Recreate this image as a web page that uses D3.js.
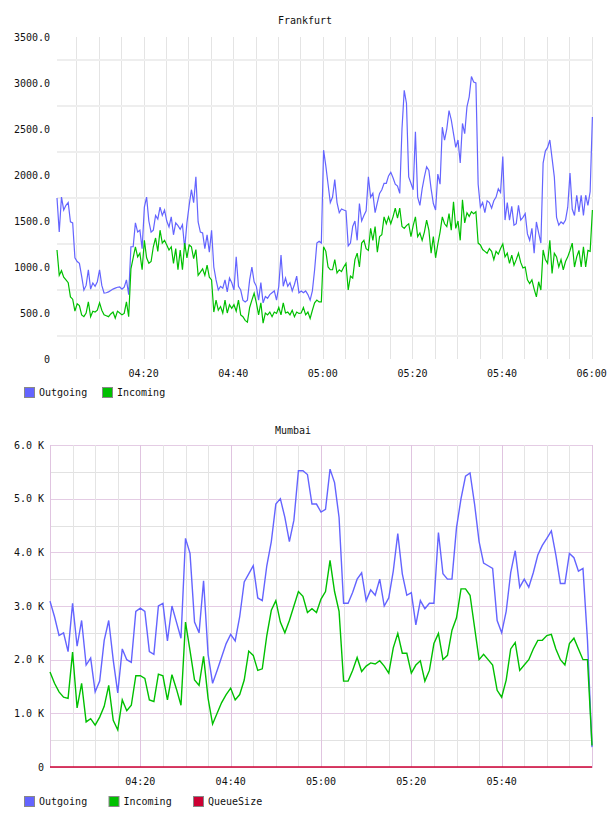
<!DOCTYPE html>
<html>
<head>
<meta charset="utf-8">
<script src="https://cdn.jsdelivr.net/npm/d3@7"></script>
<style>
  body { margin: 0; background: #fff; }
  svg { display: block; }
  text { font-family: "DejaVu Sans Mono", monospace; font-size: 10px; fill: #111; }
</style>
</head>
<body>
<svg width="608" height="816"></svg>
<script>
// Frankfurt: one sample every 30 s starting 04:00:40
var frankfurtStart = new Date(2020, 0, 1, 4, 0, 40);
var frankfurtStepSec = 30;
var frankfurtOutgoing = [
  1750, 1380, 1760, 1620, 1670, 1700, 1490, 1480, 1100, 1060,
  1040, 900, 750, 800, 970, 760, 826, 790, 840, 970,
  800, 717, 720, 730, 745, 760, 770, 780, 783, 760,
  780, 860, 700, 1220, 1220, 1480, 1380, 1400, 1200, 1650,
  1760, 1500, 1380, 1400, 1560, 1520, 1650, 1560, 1620, 1500,
  1435, 1545, 1350, 1480, 1450, 1410, 1460, 1200, 1480, 1670,
  1840, 1700, 1980, 1490, 1380, 1370, 1200, 1350, 1160, 1400,
  1000, 860, 750, 790, 770, 860, 730, 880, 830, 750,
  1110, 790, 750, 640, 620, 640, 860, 1000, 840, 790,
  640, 830, 610, 680, 660, 700, 720, 740, 640, 790,
  1130, 790, 880, 790, 830, 740, 810, 900, 720, 740,
  720, 740, 700, 640, 740, 970, 1260, 1280, 1260, 2270,
  2100, 1900, 1700, 1760, 1950, 1700, 1590, 1630, 1620, 1610,
  1230, 1260, 1440, 1500, 1290, 1690, 1500, 1560, 1610, 1980,
  1760, 1800, 1590, 1700, 1800, 1840, 1910, 1910, 1990, 2030,
  1970, 1900, 1880, 1800, 2500, 2920, 2780, 1980, 1910, 1840,
  2470, 1760, 1670, 1850, 1980, 2090, 2050, 1850, 1690, 1620,
  2010, 1900, 2520, 2380, 2500, 2700, 2600, 2450, 2300, 2380,
  2130, 2560, 2450, 2740, 2850, 3070, 3010, 3000, 1900, 1650,
  1700, 1590, 1720, 1700, 1640, 1720, 1760, 1850, 1810, 2200,
  1510, 1700, 1510, 1660, 1455, 1470, 1670, 1510, 1540, 1580,
  1360, 1290, 1420, 1150, 1490, 1370, 1260, 2130, 2260, 2300,
  2380, 2180, 1980, 1540, 1455, 1490, 1470, 1510, 1650, 2020,
  1630, 1560, 1780, 1600, 1780, 1560, 1780, 1670, 1820, 2630
];
var frankfurtIncoming = [
  1185, 910, 960, 890, 860, 830, 675, 650, 520, 600,
  580, 480, 460, 500, 620, 460, 520, 510, 530, 610,
  530, 480, 470, 460, 490, 510, 445, 520, 500, 480,
  495, 620, 460, 980, 1100, 1220, 1110, 1150, 970, 1290,
  1100, 1040, 1060, 1220, 1315, 1170, 1400, 1260, 1290, 1240,
  1185, 1220, 1040, 1200, 970, 1185, 970, 1260, 1100, 1240,
  1220, 1090, 1190, 910, 945, 980, 910, 1020, 890, 860,
  510, 640, 530, 570, 500, 640, 500, 590, 550, 590,
  520, 640, 480, 460, 420, 400, 560, 640, 715, 610,
  480, 610, 390, 500, 480, 510, 460, 510, 495, 560,
  480, 610, 500, 510, 480, 530, 460, 510, 495, 500,
  560, 480, 510, 440, 530, 610, 640, 620, 620, 1220,
  1170, 1000, 970, 970, 1080, 935, 970, 950, 1000, 1040,
  750, 900, 880, 1080, 1150, 1000, 1260, 1290, 1200, 1180,
  1420, 1290, 1440, 1160, 1330, 1350, 1545, 1470, 1545, 1470,
  1545, 1640, 1530, 1640, 1440, 1420, 1450, 1470, 1330, 1450,
  1545, 1330, 1370, 1290, 1380, 1510, 1400, 1150, 1330, 1100,
  1250, 1380, 1545, 1470, 1440, 1580, 1400, 1710, 1420, 1500,
  1290, 1730, 1480, 1590, 1550, 1600, 1580, 1600, 1260, 1240,
  1190, 1170, 1150, 1200, 1170, 1080, 1170, 1140, 1200, 1250,
  1110, 1150, 1040, 1130, 1020, 1080, 1150, 1050, 990, 1000,
  860, 820, 860, 760, 675, 840, 750, 1185, 1080, 1040,
  1290, 930, 1150, 1110, 1000, 1080, 970, 1060, 1110, 1180,
  1260, 1000, 1110, 1180, 1000, 1220, 1000, 1180, 1170, 1620
];
var frankfurtYTicks = [0, 500, 1000, 1500, 2000, 2500, 3000, 3500];
var frankfurtGridValues = [250, 750, 1250, 1750, 2250, 2750, 3250];

// Mumbai: one sample per minute, 04:00 to 06:00
var mumbaiStart = new Date(2020, 0, 1, 4, 0, 0);
var mumbaiStepSec = 60;
var mumbaiOutgoing = [
  3090, 2800, 2450, 2500, 2150, 3050, 2250, 2730, 1900, 2030,
  1400, 1600, 2360, 2730, 1990, 1380, 2200, 2000, 1950, 2900,
  2960, 2900, 2150, 2100, 3000, 3050, 2350, 3000, 2700, 2400,
  4260, 3980, 2700, 2500, 3470, 2100, 1560, 1800, 2050, 2300,
  2470, 2350, 2800, 3450, 3600, 3750, 3150, 3100, 3750, 4200,
  4900, 5000, 4650, 4200, 4600, 5520, 5520, 5450, 4900, 4900,
  4750, 4800, 5550, 5300, 4650, 3050, 3050, 3250, 3500, 3620,
  3100, 3300, 3200, 3500, 3000, 3150, 3650, 4350, 3600, 3200,
  3250, 2650, 3100, 2950, 3050, 3050, 4370, 3600, 3500, 3500,
  4460, 5000, 5420, 5480, 4900, 4200, 3800, 3750, 3700, 2730,
  2500, 2900, 3620, 4030, 3350, 3500, 3350, 3620, 3950, 4130,
  4260, 4400, 3950, 3420, 3420, 3980, 3900, 3650, 3700, 2360,
  370
];
var mumbaiIncoming = [
  1770, 1560, 1400, 1300, 1280, 2140, 1100, 1560, 840, 900,
  780, 930, 1130, 1520, 870, 690, 1250, 1050, 1150, 1700,
  1700, 1650, 1250, 1220, 1730, 1700, 1250, 1720, 1450, 1150,
  2700, 2170, 1620, 1520, 2060, 1280, 800, 1000, 1200, 1350,
  1470, 1250, 1350, 1620, 2160, 2080, 1800, 1830, 2450, 2920,
  3100, 2700, 2500, 2730, 3000, 3270, 3180, 2880, 2950, 2880,
  3130, 3270, 3850, 3270, 2900, 1600, 1600, 1800, 2040, 1780,
  1880, 1940, 1920, 1980, 1880, 1750, 2220, 2490, 2120, 2120,
  1750, 1900, 1980, 1600, 1800, 2300, 2490, 2000, 2080, 2550,
  2780, 3320, 3320, 3200, 2600, 2000, 2100, 2000, 1900, 1430,
  1300, 1620, 2200, 2320, 1800, 1900, 2000, 2200, 2360, 2360,
  2450, 2470, 2200, 2000, 1900, 2300, 2400, 2200, 2000, 2000,
  400
];
var mumbaiQueueSize = [
  0, 0, 0, 0, 0, 0, 0, 0, 0, 0, 0, 0, 0, 0, 0, 0, 0, 0, 0, 0,
  0, 0, 0, 0, 0, 0, 0, 0, 0, 0, 0, 0, 0, 0, 0, 0, 0, 0, 0, 0,
  0, 0, 0, 0, 0, 0, 0, 0, 0, 0, 0, 0, 0, 0, 0, 0, 0, 0, 0, 0,
  0, 0, 0, 0, 0, 0, 0, 0, 0, 0, 0, 0, 0, 0, 0, 0, 0, 0, 0, 0,
  0, 0, 0, 0, 0, 0, 0, 0, 0, 0, 0, 0, 0, 0, 0, 0, 0, 0, 0, 0,
  0, 0, 0, 0, 0, 0, 0, 0, 0, 0, 0, 0, 0, 0, 0, 0, 0, 0, 0, 0,
  0
];
var mumbaiYTicks = [0, 1000, 2000, 3000, 4000, 5000, 6000];

var seriesNames = ['Outgoing', 'Incoming', 'QueueSize'];
var seriesColors = ['#6464ff', '#00c000', '#cc0033'];

var svg = d3.select('svg');
var fmtTime = d3.timeFormat('%H:%M');

function toPoints(start, stepSec, values) {
  return values.map(function(v, i) {
    return {t: new Date(start.getTime() + i * stepSec * 1000), v: v};
  });
}

function legend(y, spacing, count) {
  var g = svg.append('g').attr('transform', 'translate(24,' + y + ')');
  for (var i = 0; i < count; i++) {
    var item = g.append('g').attr('transform', 'translate(' + i * spacing + ',0)');
    item.append('rect').attr('x', 0.5).attr('y', 0.5).attr('width', 10).attr('height', 10)
      .attr('fill', seriesColors[i]).attr('stroke', '#888');
    item.append('text').attr('x', 15).attr('y', 5.5).attr('dy', '0.35em').text(seriesNames[i]);
  }
}

// ---------- Frankfurt ----------
(function() {
  var out = toPoints(frankfurtStart, frankfurtStepSec, frankfurtOutgoing);
  var inc = toPoints(frankfurtStart, frankfurtStepSec, frankfurtIncoming);
  var x = d3.scaleTime().domain([out[0].t, out[out.length - 1].t]).range([57, 592.4]);
  var y = d3.scaleLinear().domain([0, 3500]).range([359, 37]);
  var g = svg.append('g');

  g.selectAll('.vg').data(x.ticks(d3.timeMinute.every(5))).enter().append('line')
    .attr('x1', function(d) { return Math.round(x(d)) + 0.5; })
    .attr('x2', function(d) { return Math.round(x(d)) + 0.5; })
    .attr('y1', 37).attr('y2', 359)
    .attr('stroke', '#e4e4e4');
  g.selectAll('.hg').data(frankfurtGridValues).enter().append('line')
    .attr('x1', 57).attr('x2', 593)
    .attr('y1', function(d) { return Math.round(y(d)); })
    .attr('y2', function(d) { return Math.round(y(d)); })
    .attr('stroke', '#eeeeee').attr('stroke-width', 2);

  g.selectAll('.yl').data(frankfurtYTicks).enter().append('text')
    .attr('x', 50).attr('y', function(d) { return y(d); }).attr('dy', '0.35em')
    .attr('text-anchor', 'end')
    .text(function(d) { return d === 0 ? '0' : d3.format('.1f')(d); });
  g.selectAll('.xl').data(x.ticks(d3.timeMinute.every(20))).enter().append('text')
    .attr('x', function(d) { return x(d); }).attr('y', 373).attr('dy', '0.35em')
    .attr('text-anchor', 'middle').text(fmtTime);

  var line = d3.line().x(function(d) { return x(d.t); }).y(function(d) { return y(d.v); });
  g.append('path').datum(out).attr('d', line).attr('fill', 'none')
    .attr('stroke', seriesColors[0]).attr('stroke-width', 1.2);
  g.append('path').datum(inc).attr('d', line).attr('fill', 'none')
    .attr('stroke', seriesColors[1]).attr('stroke-width', 1.2);

  g.append('text').attr('x', 305).attr('y', 20).attr('dy', '0.35em')
    .attr('text-anchor', 'middle').text('Frankfurt');
  legend(387, 78, 2);
})();

// ---------- Mumbai ----------
(function() {
  var out = toPoints(mumbaiStart, mumbaiStepSec, mumbaiOutgoing);
  var inc = toPoints(mumbaiStart, mumbaiStepSec, mumbaiIncoming);
  var que = toPoints(mumbaiStart, mumbaiStepSec, mumbaiQueueSize);
  var x = d3.scaleTime().domain([out[0].t, out[out.length - 1].t]).range([50, 592]);
  var y = d3.scaleLinear().domain([0, 6000]).range([767, 445]);
  var g = svg.append('g');

  var minor = d3.range(0, 6001, 500);
  g.selectAll('.hg').data(minor).enter().append('line')
    .attr('x1', 50).attr('x2', 593)
    .attr('y1', function(d) { return Math.round(y(d)) + 0.5; })
    .attr('y2', function(d) { return Math.round(y(d)) + 0.5; })
    .attr('stroke', function(d) { return d % 1000 === 0 ? '#e4cce4' : '#e2e2e2'; });
  g.selectAll('.vg').data(x.ticks(d3.timeMinute.every(5))).enter().append('line')
    .attr('x1', function(d) { return Math.round(x(d)) + 0.5; })
    .attr('x2', function(d) { return Math.round(x(d)) + 0.5; })
    .attr('y1', 445).attr('y2', 767)
    .attr('stroke', function(d) { return d.getMinutes() % 20 === 0 ? '#e0c4e0' : '#e4e4e4'; });

  g.selectAll('.yl').data(mumbaiYTicks).enter().append('text')
    .attr('x', 44).attr('y', function(d) { return y(d); }).attr('dy', '0.35em')
    .attr('text-anchor', 'end')
    .text(function(d) { return d === 0 ? '0' : d3.format('.1f')(d / 1000) + ' K'; });
  var labelTicks = x.ticks(d3.timeMinute.every(20)).filter(function(d) {
    return x(d) > 60 && x(d) < 580;
  });
  g.selectAll('.xl').data(labelTicks).enter().append('text')
    .attr('x', function(d) { return x(d); }).attr('y', 781).attr('dy', '0.35em')
    .attr('text-anchor', 'middle').text(fmtTime);

  var line = d3.line().x(function(d) { return x(d.t); }).y(function(d) { return y(d.v); });
  [out, inc, que].forEach(function(s, i) {
    g.append('path').datum(s).attr('d', line).attr('fill', 'none')
      .attr('stroke', seriesColors[i]).attr('stroke-width', 1.4);
  });

  g.append('text').attr('x', 293).attr('y', 430).attr('dy', '0.35em')
    .attr('text-anchor', 'middle').text('Mumbai');
  legend(796, 84.5, 3);
})();
</script>
</body>
</html>
